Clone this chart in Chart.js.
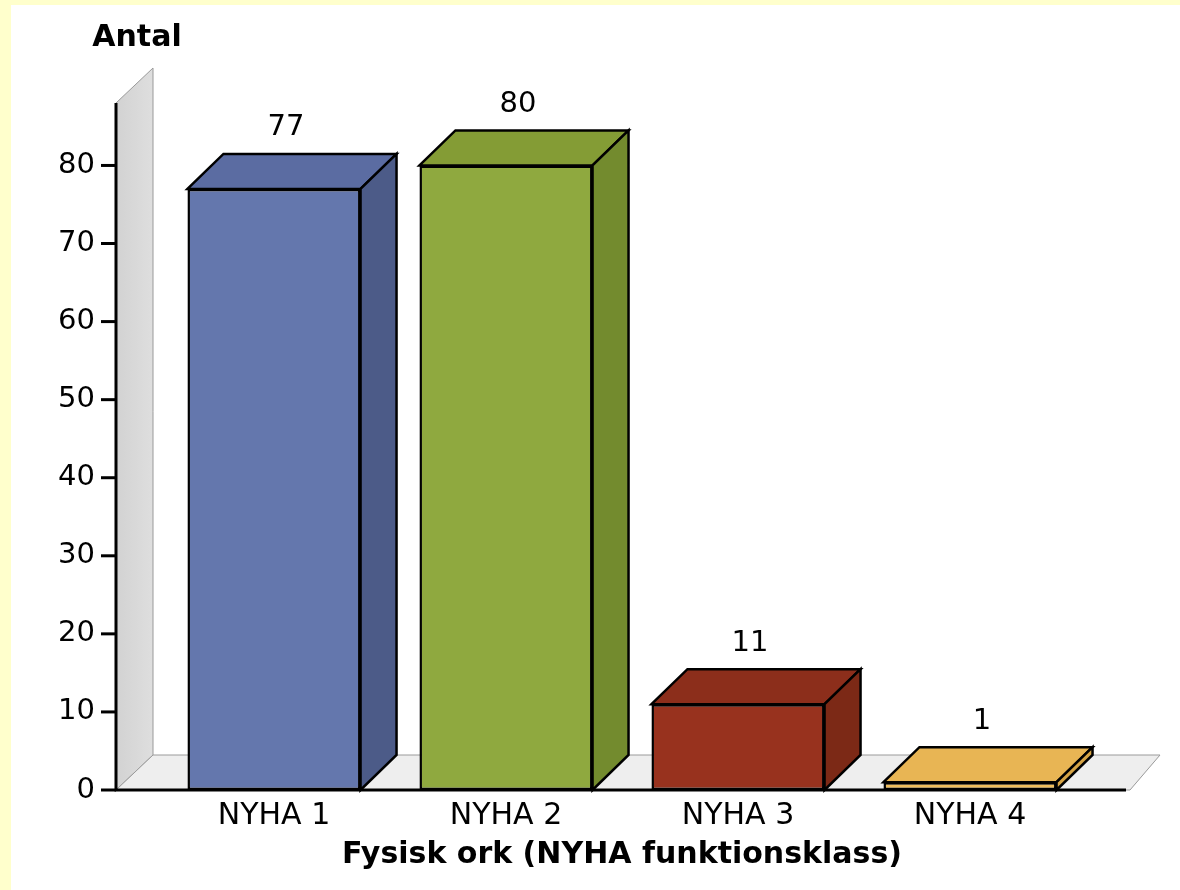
<!DOCTYPE html>
<html>
<head>
<meta charset="utf-8">
<script src="https://cdn.jsdelivr.net/npm/chart.js@4/dist/chart.umd.min.js"></script>
<style>
  html, body { margin: 0; padding: 0; background: #ffffcc; }
  canvas { display: block; }
</style>
</head>
<body>
<canvas id="chart" width="1180" height="890"></canvas>
<script>
const categories = ['NYHA 1', 'NYHA 2', 'NYHA 3', 'NYHA 4'];
const counts = [77, 80, 11, 1];
const yTicks = [0, 10, 20, 30, 40, 50, 60, 70, 80];

const frontColors = ['#6477ad', '#8fa93f', '#98321e', '#efbd5c'];
const topColors = ['#5b6ca2', '#849c35', '#8c2e1b', '#e8b554'];
const sideColors = ['#4c5b88', '#738b2e', '#7c2916', '#d6a446'];

// depth of the fake 3D projection
const DX = 36, DY = 35;

const threeD = {
  id: 'threeD',
  beforeDraw(chart) {
    const ctx = chart.ctx;
    ctx.save();
    ctx.fillStyle = '#ffffcc';
    ctx.fillRect(0, 0, chart.width, chart.height);
    ctx.fillStyle = '#ffffff';
    ctx.fillRect(11, 5, chart.width - 11, chart.height - 5);
    ctx.restore();
  },
  beforeDatasetsDraw(chart) {
    const ctx = chart.ctx, y = chart.scales.y, area = chart.chartArea;
    const x0 = area.left - 42, xr = area.right + 44;
    const yb = y.getPixelForValue(0), yt = y.getPixelForValue(y.max);
    ctx.save();
    // back wall
    const g = ctx.createLinearGradient(x0, 0, x0 + DX, 0);
    g.addColorStop(0, '#d2d2d2');
    g.addColorStop(1, '#dedede');
    ctx.beginPath();
    ctx.moveTo(x0, yb);
    ctx.lineTo(x0, yt);
    ctx.lineTo(x0 + DX + 1, yt - DY);
    ctx.lineTo(x0 + DX + 1, yb - DY);
    ctx.closePath();
    ctx.fillStyle = g;
    ctx.fill();
    ctx.strokeStyle = '#9a9a9a';
    ctx.lineWidth = 1;
    ctx.stroke();
    // floor
    ctx.beginPath();
    ctx.moveTo(x0, yb);
    ctx.lineTo(xr, yb);
    ctx.lineTo(xr + DX - 6, yb - DY);
    ctx.lineTo(x0 + DX + 1, yb - DY);
    ctx.closePath();
    ctx.fillStyle = '#eeeeee';
    ctx.fill();
    ctx.strokeStyle = '#9a9a9a';
    ctx.stroke();
    ctx.restore();
  },
  afterDatasetsDraw(chart) {
    const ctx = chart.ctx, y = chart.scales.y, area = chart.chartArea;
    const x0 = area.left - 42, xr = area.right + 44;
    const yb = y.getPixelForValue(0), yt = y.getPixelForValue(y.max);
    const meta = chart.getDatasetMeta(0);
    ctx.save();
    ctx.lineJoin = 'miter';
    meta.data.forEach((bar, i) => {
      const l = bar.x - bar.width / 2, r = bar.x + bar.width / 2;
      ctx.lineWidth = 2.5;
      ctx.strokeStyle = '#000';
      // top
      ctx.beginPath();
      ctx.moveTo(l, bar.y);
      ctx.lineTo(l + DX, bar.y - DY);
      ctx.lineTo(r + DX, bar.y - DY);
      ctx.lineTo(r, bar.y);
      ctx.closePath();
      ctx.fillStyle = topColors[i];
      ctx.fill();
      ctx.stroke();
      // side
      ctx.beginPath();
      ctx.moveTo(r, bar.y);
      ctx.lineTo(r + DX, bar.y - DY);
      ctx.lineTo(r + DX, bar.base - DY);
      ctx.lineTo(r, bar.base);
      ctx.closePath();
      ctx.fillStyle = sideColors[i];
      ctx.fill();
      ctx.stroke();
      // value label
      ctx.fillStyle = '#000';
      ctx.font = '29px "DejaVu Sans"';
      ctx.textAlign = 'center';
      ctx.textBaseline = 'middle';
      ctx.fillText(String(counts[i]), bar.x + 12, bar.y - 61);
    });
    // axes
    ctx.strokeStyle = '#000';
    ctx.lineWidth = 3;
    ctx.beginPath();
    ctx.moveTo(x0, yt);
    ctx.lineTo(x0, yb);
    ctx.lineTo(xr - 4, yb);
    ctx.stroke();
    yTicks.forEach(v => {
      const py = y.getPixelForValue(v);
      ctx.beginPath();
      ctx.moveTo(x0 - 15, py);
      ctx.lineTo(x0, py);
      ctx.stroke();
    });
    ctx.fillStyle = '#000';
    ctx.font = 'bold 30px "DejaVu Sans"';
    ctx.textAlign = 'center';
    ctx.textBaseline = 'middle';
    ctx.fillText('Antal', 137, 38);
    ctx.restore();
  }
};

new Chart(document.getElementById('chart'), {
  type: 'bar',
  data: {
    labels: categories,
    datasets: [{
      data: counts,
      backgroundColor: frontColors,
      borderColor: '#000',
      borderWidth: 2.5,
      borderSkipped: false,
      barPercentage: 0.746,
      categoryPercentage: 1
    }]
  },
  options: {
    responsive: false,
    animation: false,
    devicePixelRatio: 1,
    layout: { padding: { top: 103, right: 94, left: 0, bottom: 0 } },
    plugins: { legend: { display: false }, tooltip: { enabled: false } },
    scales: {
      x: {
        grid: { display: false },
        border: { display: false },
        afterFit(s) { s.height = 100; },
        ticks: { color: '#000', font: { family: 'DejaVu Sans', size: 30 }, padding: 0 },
        title: {
          display: true,
          text: 'Fysisk ork (NYHA funktionsklass)',
          color: '#000',
          font: { family: 'DejaVu Sans', size: 30, weight: 'bold' },
          padding: { top: 0, bottom: 17 }
        }
      },
      y: {
        min: 0,
        max: 88,
        afterBuildTicks(s) { s.ticks = yTicks.map(v => ({ value: v })); },
        afterFit(s) { s.width = 158; },
        grid: { display: false },
        border: { display: false },
        ticks: { color: '#000', font: { family: 'DejaVu Sans', size: 29 }, padding: 55 }
      }
    }
  },
  plugins: [threeD]
});
</script>
</body>
</html>
